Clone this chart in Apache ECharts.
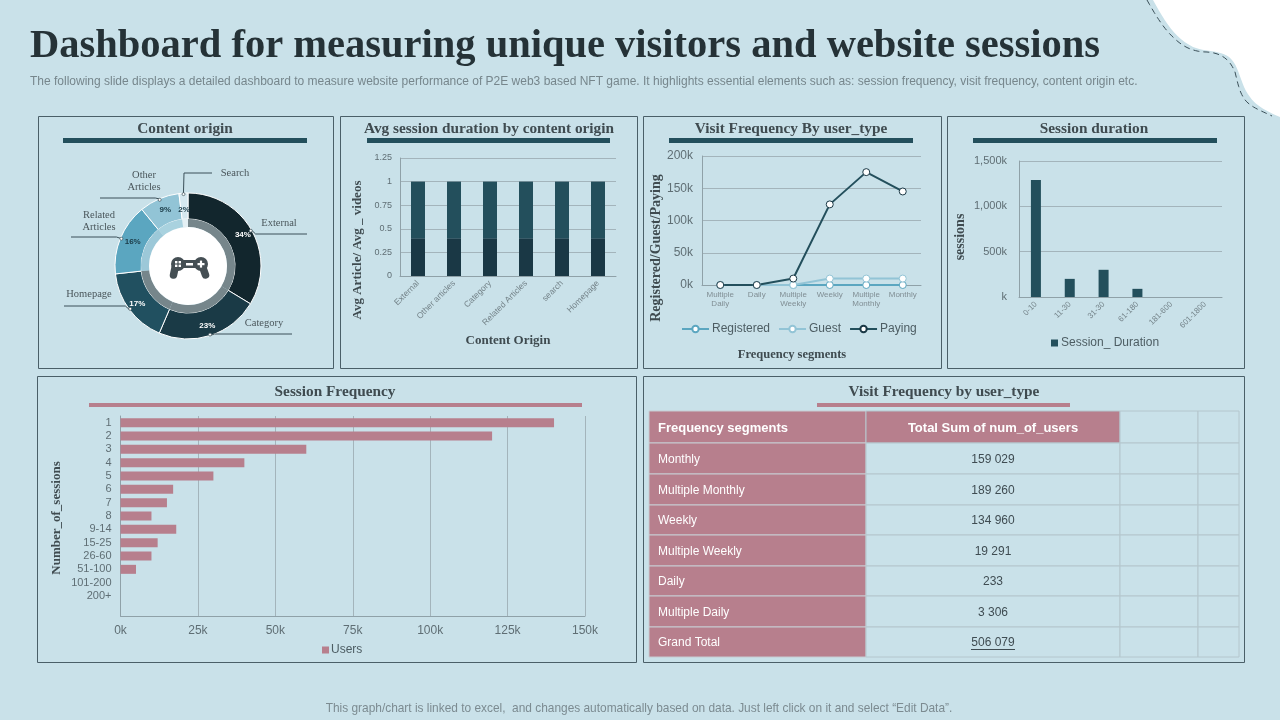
<!DOCTYPE html>
<html>
<head>
<meta charset="utf-8">
<style>
  html, body { margin: 0; padding: 0; background: #c9e1e9; }
  #main { width: 1280px; height: 720px; }
</style>
<script src="https://cdn.jsdelivr.net/npm/echarts@6/dist/echarts.min.js"></script>
</head>
<body>
<div id="main"></div>
<script>
// content origin
const originNames = ["External", "Category", "Homepage", "Related\nArticles", "Other\nArticles", "Search"];
const originValues = [34, 23, 17, 16, 9, 2];

// avg session duration
const durationOrigins = ["External", "Other articles", "Category", "Related Articles", "search", "Homepage"];
const avgArticle = [0.4, 0.4, 0.4, 0.4, 0.4, 0.4];
const avgVideos = [0.6, 0.6, 0.6, 0.6, 0.6, 0.6];

// visit frequency
const frequencySegments = ["Multiple\nDaily", "Daily", "Multiple\nWeekly", "Weekly", "Multiple\nMonthly", "Monthly"];
const registered = [0, 0, 0, 0, 0, 0];
const guest = [0, 0, 0, 10000, 10000, 10000];
const paying = [0, 0, 10000, 125000, 175000, 145000];

// session duration (k)
const durationBuckets = ["0-10", "11-30", "31-30", "61-180", "181-600", "601-1800"];
const durationSessions = [1290, 200, 300, 90, 0, 0];

// session frequency
const sessionBuckets = ["1", "2", "3", "4", "5", "6", "7", "8", "9-14", "15-25", "26-60", "51-100", "101-200", "200+", ""];
const sessionUsers = [140000, 120000, 60000, 40000, 30000, 17000, 15000, 10000, 18000, 12000, 10000, 5000, 0, 0, null];

// table
const tableHeader = ["Frequency segments", "Total Sum of num_of_users"];
const tableSegments = ["Monthly", "Multiple Monthly", "Weekly", "Multiple Weekly", "Daily", "Multiple Daily", "Grand Total"];
const tableTotals = ["159 029", "189 260", "134 960", "19 291", "233", "3 306", "506 079"];

const BG = "#c9e1e9";
const DARK = "#234f5c";
const ROSE = "#b77f8d";
const SERIF = '"Liberation Serif", serif';
const SANS = '"Liberation Sans", Arial, sans-serif';
const GRID_LINE = "#a3b4bb";
const AXIS_TEXT = "#5f6e74";
const SERIF_TEXT = "#3f4b50";

const sliceColors = ["#12262d", "#1a3a46", "#215060", "#5ba6c0", "#92c4d6", "#d6e8ef"];
const ringColors = ["#76868b", "#76868b", "#76868b", "#9cc8d8", "#a9d2df", "#e4f0f4"];
const pieTextColors = ["#fff", "#fff", "#fff", "#1a3a46", "#1a3a46", "#1a3a46"];

const PIE_X = 188, PIE_Y = 266, PIE_R = 73;
// where each leader line ends up and where its name sits
const leaderEnds = [[[307, 234]], [[292, 334]], [[64, 306]], [[71, 237]], [[100, 198]], [[184, 173], [212, 173]]];
const leaderText = [[279, 223], [264, 323], [89, 294], [99, 221], [144, 181], [235, 173]];

const panels = [
  { x: 38, y: 116, w: 295, h: 252 },
  { x: 340, y: 116, w: 297, h: 252 },
  { x: 643, y: 116, w: 298, h: 252 },
  { x: 947, y: 116, w: 297, h: 252 },
  { x: 37, y: 376, w: 599, h: 286 },
  { x: 643, y: 376, w: 601, h: 286 }
];
const panelTitles = [
  { text: "Content origin", cx: 185, y: 129, bar: [63, 138, 244, 5], color: DARK },
  { text: "Avg session duration by content origin", cx: 489, y: 129, bar: [367, 138, 243, 5], color: DARK },
  { text: "Visit Frequency By user_type", cx: 791, y: 129, bar: [669, 138, 244, 5], color: DARK },
  { text: "Session duration", cx: 1094, y: 129, bar: [973, 138, 244, 5], color: DARK },
  { text: "Session Frequency", cx: 335, y: 392, bar: [89, 403, 493, 4], color: ROSE },
  { text: "Visit Frequency by user_type", cx: 944, y: 392, bar: [817, 403, 253, 4], color: ROSE }
];
// axis titles that do not sit at the middle of their axis
const sideTitles = [
  { text: "Avg Article/ Avg _ videos", x: 358, y: 250, size: 13, rotate: true },
  { text: "Registered/Guest/Paying", x: 656, y: 248, size: 14, rotate: true },
  { text: "sessions", x: 960, y: 237, size: 14, rotate: true },
  { text: "Number_of_sessions", x: 57, y: 518, size: 13, rotate: true },
  { text: "Frequency segments", x: 792, y: 355, size: 12.5, rotate: false }
];

// corner decoration outlines, start point then cubic control triples
const cornerEdge = [[1153, 0], [1165, 22], [1175, 38], [1193, 47], [1205, 52], [1220, 50], [1229, 57], [1240, 66], [1240, 85], [1250, 97], [1256, 106], [1268, 112], [1280, 117]];
const cornerDash = [[1147, 0], [1157, 18], [1165, 30], [1174, 38], [1184, 48], [1195, 52], [1207, 52], [1222, 53], [1230, 60], [1235, 72], [1238, 84], [1240, 96], [1248, 103], [1255, 109], [1264, 112], [1272, 116]];

function curvePoints(c) {
  const pts = [c[0]];
  for (let i = 0; i + 3 < c.length; i += 3) {
    for (let k = 1; k <= 12; k++) {
      const t = k / 12, u = 1 - t;
      pts.push([
        u * u * u * c[i][0] + 3 * u * u * t * c[i + 1][0] + 3 * u * t * t * c[i + 2][0] + t * t * t * c[i + 3][0],
        u * u * u * c[i][1] + 3 * u * u * t * c[i + 1][1] + 3 * u * t * t * c[i + 2][1] + t * t * t * c[i + 3][1]
      ]);
    }
  }
  return pts;
}

function buildGraphic() {
  const g = [];
  // corner shape
  g.push({ type: "polygon", shape: { points: curvePoints(cornerEdge).concat([[1280, 0]]) }, style: { fill: "#fff" }, silent: true });
  g.push({ type: "polyline", shape: { points: curvePoints(cornerDash) }, style: { fill: null, stroke: "#3a4f58", lineWidth: 1, lineDash: [6, 4] }, silent: true });

  g.push({ type: "text", x: 30, y: 47, style: { text: "Dashboard for measuring unique visitors and website sessions", font: 'bold 40.5px ' + SERIF, fill: "#253237", textVerticalAlign: "middle" } });
  g.push({ type: "text", x: 30, y: 82, style: { text: "The following slide displays a detailed dashboard to measure website performance of P2E web3 based NFT game. It highlights essential elements such as: session frequency, visit frequency, content origin etc.", font: "12px " + SANS, fill: "#76868c", textVerticalAlign: "middle" } });
  g.push({ type: "text", x: 639, y: 709, style: { text: "This graph/chart is linked to excel,  and changes automatically based on data. Just left click on it and select \u201cEdit Data\u201d.", font: "11.9px " + SANS, fill: "#7c8b91", textAlign: "center", textVerticalAlign: "middle" } });

  panels.forEach(function (p) {
    g.push({ type: "rect", shape: { x: p.x + 0.5, y: p.y + 0.5, width: p.w, height: p.h }, style: { fill: null, stroke: "#4a5f68", lineWidth: 1 }, silent: true });
  });
  panelTitles.forEach(function (t) {
    g.push({ type: "text", x: t.cx, y: t.y, style: { text: t.text, font: "bold 15.3px " + SERIF, fill: SERIF_TEXT, textAlign: "center", textVerticalAlign: "middle" } });
    g.push({ type: "rect", shape: { x: t.bar[0], y: t.bar[1], width: t.bar[2], height: t.bar[3] }, style: { fill: t.color }, silent: true });
  });
  sideTitles.forEach(function (t) {
    g.push({ type: "text", x: t.x, y: t.y, rotation: t.rotate ? Math.PI / 2 : 0, style: { text: t.text, font: "bold " + t.size + "px " + SERIF, fill: SERIF_TEXT, textAlign: "center", textVerticalAlign: "middle" } });
  });

  // centre of the donut with a game pad
  const ICON = "#454f54";
  g.push({ type: "circle", z: 10, shape: { cx: PIE_X, cy: PIE_Y, r: 39 }, style: { fill: "#fff" }, silent: true });
  g.push({ type: "line", z: 11, shape: { x1: 175, y1: 268, x2: 173.5, y2: 275 }, style: { stroke: ICON, lineWidth: 7.5, lineCap: "round" }, silent: true });
  g.push({ type: "line", z: 11, shape: { x1: 203, y1: 268, x2: 205.5, y2: 275 }, style: { stroke: ICON, lineWidth: 7.5, lineCap: "round" }, silent: true });
  g.push({ type: "circle", z: 11, shape: { cx: 178, cy: 264, r: 7 }, style: { fill: ICON }, silent: true });
  g.push({ type: "circle", z: 11, shape: { cx: 201, cy: 264, r: 7 }, style: { fill: ICON }, silent: true });
  g.push({ type: "rect", z: 11, shape: { x: 178, y: 260, width: 23, height: 8 }, style: { fill: ICON }, silent: true });
  g.push({ type: "rect", z: 12, shape: { x: 186, y: 263, width: 7, height: 2.5 }, style: { fill: "#fff" }, silent: true });
  g.push({ type: "rect", z: 12, shape: { x: 175, y: 261, width: 2.4, height: 2.4 }, style: { fill: "#fff" }, silent: true });
  g.push({ type: "rect", z: 12, shape: { x: 178.6, y: 261, width: 2.4, height: 2.4 }, style: { fill: "#fff" }, silent: true });
  g.push({ type: "rect", z: 12, shape: { x: 175, y: 264.6, width: 2.4, height: 2.4 }, style: { fill: "#fff" }, silent: true });
  g.push({ type: "rect", z: 12, shape: { x: 178.6, y: 264.6, width: 2.4, height: 2.4 }, style: { fill: "#fff" }, silent: true });
  g.push({ type: "rect", z: 12, shape: { x: 197.5, y: 263, width: 7, height: 2.2 }, style: { fill: "#fff" }, silent: true });
  g.push({ type: "rect", z: 12, shape: { x: 199.9, y: 260.6, width: 2.2, height: 7 }, style: { fill: "#fff" }, silent: true });

  // little rings where the leaders leave the donut
  const total = originValues.reduce(function (a, b) { return a + b; }, 0);
  let run = 0;
  originValues.forEach(function (v) {
    const mid = (run + v / 2) / total * Math.PI * 2;
    run += v;
    g.push({ type: "circle", z: 12, shape: { cx: PIE_X + Math.sin(mid) * (PIE_R - 1), cy: PIE_Y - Math.cos(mid) * (PIE_R - 1), r: 1.5 }, style: { fill: "#fff", stroke: "#3a4f58", lineWidth: 0.7 }, silent: true });
  });

  // table
  const colX = [649, 866, 1120, 1198, 1239];
  const rowY = [411, 443, 474, 505, 535, 566, 596, 627, 657];
  const rows = tableSegments.length + 1;
  for (let r = 0; r < rows; r++) {
    const y = rowY[r], h = rowY[r + 1] - rowY[r];
    const left = r === 0 ? tableHeader[0] : tableSegments[r - 1];
    const mid = r === 0 ? tableHeader[1] : tableTotals[r - 1];
    const fontWeight = r === 0 ? "bold " : "";
    const fontSize = r === 0 ? "13px " : "12px ";
    g.push({ type: "rect", shape: { x: colX[0], y: y, width: colX[1] - colX[0], height: h }, style: { fill: ROSE, stroke: "#c7ccd2", lineWidth: 1 }, silent: true });
    g.push({ type: "rect", shape: { x: colX[1], y: y, width: colX[2] - colX[1], height: h }, style: { fill: r === 0 ? ROSE : BG, stroke: "#b4c6cd", lineWidth: 1 }, silent: true });
    g.push({ type: "rect", shape: { x: colX[2], y: y, width: colX[3] - colX[2], height: h }, style: { fill: BG, stroke: "#b4c6cd", lineWidth: 1 }, silent: true });
    g.push({ type: "rect", shape: { x: colX[3], y: y, width: colX[4] - colX[3], height: h }, style: { fill: BG, stroke: "#b4c6cd", lineWidth: 1 }, silent: true });
    g.push({ type: "text", z: 5, x: colX[0] + 9, y: y + h / 2 + 1, style: { text: left, font: fontWeight + fontSize + SANS, fill: "#fff", textVerticalAlign: "middle" } });
    g.push({ type: "text", z: 5, x: (colX[1] + colX[2]) / 2, y: y + h / 2 + 1, style: { text: mid, font: fontWeight + fontSize + SANS, fill: r === 0 ? "#fff" : "#3f4c52", textAlign: "center", textVerticalAlign: "middle" } });
  }
  // grand total is underlined
  g.push({ type: "line", z: 5, shape: { x1: 971, y1: 649.5, x2: 1015, y2: 649.5 }, style: { stroke: "#3f4c52", lineWidth: 1 }, silent: true });
  return g;
}

function kLabel(v) { return v / 1000 + "k"; }

const yLine = { show: true, lineStyle: { color: "#8fa1a8", width: 1 } };
const valueAxisBase = {
  type: "value",
  axisLine: yLine,
  axisTick: { show: false },
  splitLine: { lineStyle: { color: GRID_LINE, width: 1 } }
};
const catAxisBase = {
  type: "category",
  axisTick: { show: false },
  axisLine: { lineStyle: { color: "#8fa1a8", width: 1 } }
};
const axisName = { fontFamily: SERIF, fontWeight: "bold", fontSize: 13, color: SERIF_TEXT };

const option = {
  backgroundColor: BG,
  animation: false,
  graphic: buildGraphic(),
  grid: [
    { left: 400, top: 158, width: 216, height: 118 },
    { left: 702, top: 156, width: 219, height: 129 },
    { left: 1019, top: 161, width: 203, height: 136 },
    { left: 120.5, top: 416, width: 464.5, height: 200 }
  ],
  xAxis: [
    Object.assign({}, catAxisBase, { gridIndex: 0, data: durationOrigins,
      name: "Content Origin", nameLocation: "middle", nameGap: 58, nameTextStyle: axisName,
      axisLabel: { rotate: 45, fontSize: 8.5, color: "#75848a", fontFamily: SANS, interval: 0, margin: 6 } }),
    Object.assign({}, catAxisBase, { gridIndex: 1, data: frequencySegments,
      axisLabel: { fontSize: 8, color: "#808e94", fontFamily: SANS, interval: 0, margin: 5, lineHeight: 9 } }),
    Object.assign({}, catAxisBase, { gridIndex: 2, data: durationBuckets,
      axisLabel: { rotate: 45, fontSize: 8, color: "#75848a", fontFamily: SANS, interval: 0, margin: 6 } }),
    Object.assign({}, valueAxisBase, { gridIndex: 3, min: 0, max: 150000, interval: 25000,
      axisLabel: { formatter: kLabel, fontSize: 12, color: AXIS_TEXT, fontFamily: SANS, margin: 9 } })
  ],
  yAxis: [
    Object.assign({}, valueAxisBase, { gridIndex: 0, min: 0, max: 1.25, interval: 0.25,
      axisLabel: { fontSize: 9, color: AXIS_TEXT, fontFamily: SANS, margin: 8 } }),
    Object.assign({}, valueAxisBase, { gridIndex: 1, min: 0, max: 200000, interval: 50000,
      axisLabel: { formatter: kLabel, fontSize: 12, color: AXIS_TEXT, fontFamily: SANS, margin: 9 } }),
    Object.assign({}, valueAxisBase, { gridIndex: 2, min: 0, max: 1500, interval: 500,
      axisLabel: { formatter: function (v) { return (v === 0 ? "" : v.toLocaleString("en-US")) + "k"; }, fontSize: 11, color: AXIS_TEXT, fontFamily: SANS, margin: 12 } }),
    Object.assign({}, catAxisBase, { gridIndex: 3, inverse: true, data: sessionBuckets,
      axisLabel: { fontSize: 11, color: AXIS_TEXT, fontFamily: SANS, interval: 0, margin: 9 } })
  ],
  legend: [
    { data: ["Registered", "Guest", "Paying"], left: 676, top: 318, itemWidth: 27, itemHeight: 8, itemGap: 8,
      textStyle: { fontSize: 12, color: "#4d5d63", fontFamily: SANS, padding: [0, 0, 0, -2] } },
    { data: [{ name: "Session_ Duration", icon: "rect" }], left: 1046, top: 332, itemWidth: 7, itemHeight: 7, itemGap: 4,
      textStyle: { fontSize: 12, color: "#4d5d63", fontFamily: SANS, padding: [0, 0, 0, -2] } },
    { data: [{ name: "Users", icon: "rect" }], left: 317, top: 639, itemWidth: 7, itemHeight: 7,
      textStyle: { fontSize: 12, color: "#4d5d63", fontFamily: SANS, padding: [0, 0, 0, -3] } }
  ],
  series: [
    { type: "pie", center: [PIE_X, PIE_Y], radius: [47, PIE_R], silent: true,
      data: originValues.map(function (v, i) {
        return { value: v, name: originNames[i], itemStyle: { color: sliceColors[i] },
          label: { color: pieTextColors[i] } };
      }),
      itemStyle: { borderColor: "#fff", borderWidth: 1 },
      label: { show: true, position: "inside", formatter: "{c}%", fontSize: 8, fontWeight: "bold", fontFamily: SANS },
      labelLine: { show: false },
      labelLayout: function (params) {
        // the small slices sit a bit deeper in the ring
        return params.dataIndex === 5 ? { dy: 7 } : params.dataIndex === 4 ? { dx: 2, dy: 2 } : params.dataIndex === 3 ? { dx: 3 } : {};
      } },
    { type: "pie", center: [PIE_X, PIE_Y], radius: [39, 47], silent: true,
      data: originValues.map(function (v, i) {
        return { value: v, name: originNames[i], itemStyle: { color: ringColors[i] } };
      }),
      label: { show: false }, labelLine: { show: false } },
    // invisible copy that carries the names and leader lines
    { type: "pie", center: [PIE_X, PIE_Y], radius: [PIE_R - 2, PIE_R], silent: true, z: 3,
      data: originValues.map(function (v, i) {
        return { value: v, name: originNames[i], itemStyle: { color: "transparent" } };
      }),
      label: { show: true, formatter: "{b}", fontFamily: SERIF, fontSize: 10.5, lineHeight: 12, color: "#4a565b" },
      labelLine: { show: true, lineStyle: { color: "#3a4f58", width: 1 } },
      labelLayout: function (params) {
        const i = params.dataIndex;
        const start = params.labelLinePoints[0];
        const ends = leaderEnds[i];
        const side = ends[0][0] > start[0] ? 4 : -4;
        const points = ends.length > 1 ? [start].concat(ends) : [start, [start[0] + side, ends[0][1]], ends[0]];
        return { x: leaderText[i][0], y: leaderText[i][1], align: "center", verticalAlign: "middle", labelLinePoints: points };
      } },

    { type: "bar", name: "Avg Article", xAxisIndex: 0, yAxisIndex: 0, stack: "avg", barWidth: 14, data: avgArticle, itemStyle: { color: "#1a3845" } },
    { type: "bar", name: "Avg videos", xAxisIndex: 0, yAxisIndex: 0, stack: "avg", barWidth: 14, data: avgVideos, itemStyle: { color: DARK } },

    { type: "line", name: "Registered", xAxisIndex: 1, yAxisIndex: 1, data: registered, symbol: "circle", symbolSize: 7,
      lineStyle: { color: "#5ba6c0", width: 2 }, itemStyle: { color: "#fff", borderColor: "#5ba6c0", borderWidth: 1 } },
    { type: "line", name: "Guest", xAxisIndex: 1, yAxisIndex: 1, data: guest, symbol: "circle", symbolSize: 7,
      lineStyle: { color: "#92c4d6", width: 2 }, itemStyle: { color: "#fff", borderColor: "#92c4d6", borderWidth: 1 } },
    { type: "line", name: "Paying", xAxisIndex: 1, yAxisIndex: 1, data: paying, symbol: "circle", symbolSize: 7,
      lineStyle: { color: DARK, width: 2 }, itemStyle: { color: "#fff", borderColor: "#1a3845", borderWidth: 1 } },

    { type: "bar", name: "Session_ Duration", xAxisIndex: 2, yAxisIndex: 2, barWidth: 10, data: durationSessions, itemStyle: { color: DARK } },

    { type: "bar", name: "Users", xAxisIndex: 3, yAxisIndex: 3, barWidth: 9, data: sessionUsers, itemStyle: { color: ROSE } }
  ]
};

const chart = echarts.init(document.getElementById("main"), null, { renderer: "canvas" });
chart.setOption(option);
</script>
</body>
</html>
